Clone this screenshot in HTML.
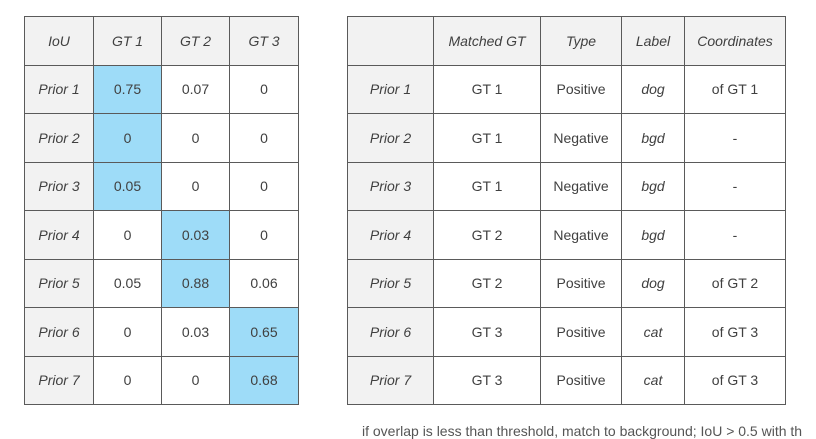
<!DOCTYPE html>
<html><head><style>
body{margin:0;width:816px;height:428px;background:#fff;position:relative;overflow:hidden;font-family:"Liberation Sans",sans-serif;color:#404040;font-size:14px}
table{position:absolute;border-collapse:collapse;table-layout:fixed}
td{border:1.5px solid #5a5a5a;text-align:center;padding:0;height:47px}
.h{background:#f2f2f2;font-style:italic}
.b{background:#9edcf8}
i{font-style:italic}
.foot{position:absolute;left:362px;top:423px;width:440px;overflow:hidden;font-size:14px;color:#555;white-space:nowrap}
</style></head><body>
<table style="left:24px;top:16px;width:274px;height:389px">
<colgroup><col style="width:69px"><col style="width:68px"><col style="width:68px"><col style="width:69px"></colgroup>
<tr><td class="h">IoU</td><td class="h">GT 1</td><td class="h">GT 2</td><td class="h">GT 3</td></tr>
<tr><td class="h">Prior 1</td><td class="b">0.75</td><td>0.07</td><td>0</td></tr>
<tr><td class="h">Prior 2</td><td class="b">0</td><td>0</td><td>0</td></tr>
<tr><td class="h">Prior 3</td><td class="b">0.05</td><td>0</td><td>0</td></tr>
<tr><td class="h">Prior 4</td><td>0</td><td class="b">0.03</td><td>0</td></tr>
<tr><td class="h">Prior 5</td><td>0.05</td><td class="b">0.88</td><td>0.06</td></tr>
<tr><td class="h">Prior 6</td><td>0</td><td>0.03</td><td class="b">0.65</td></tr>
<tr><td class="h">Prior 7</td><td>0</td><td>0</td><td class="b">0.68</td></tr>
</table>
<table style="left:347px;top:16px;width:438px;height:389px">
<colgroup><col style="width:86px"><col style="width:107px"><col style="width:81px"><col style="width:63px"><col style="width:101px"></colgroup>
<tr><td class="h"></td><td class="h">Matched GT</td><td class="h">Type</td><td class="h">Label</td><td class="h">Coordinates</td></tr>
<tr><td class="h">Prior 1</td><td>GT 1</td><td>Positive</td><td><i>dog</i></td><td>of GT 1</td></tr>
<tr><td class="h">Prior 2</td><td>GT 1</td><td>Negative</td><td><i>bgd</i></td><td>-</td></tr>
<tr><td class="h">Prior 3</td><td>GT 1</td><td>Negative</td><td><i>bgd</i></td><td>-</td></tr>
<tr><td class="h">Prior 4</td><td>GT 2</td><td>Negative</td><td><i>bgd</i></td><td>-</td></tr>
<tr><td class="h">Prior 5</td><td>GT 2</td><td>Positive</td><td><i>dog</i></td><td>of GT 2</td></tr>
<tr><td class="h">Prior 6</td><td>GT 3</td><td>Positive</td><td><i>cat</i></td><td>of GT 3</td></tr>
<tr><td class="h">Prior 7</td><td>GT 3</td><td>Positive</td><td><i>cat</i></td><td>of GT 3</td></tr>
</table>
<div class="foot">if overlap is less than threshold, match to background; IoU &gt; 0.5 with the</div>
</body></html>
